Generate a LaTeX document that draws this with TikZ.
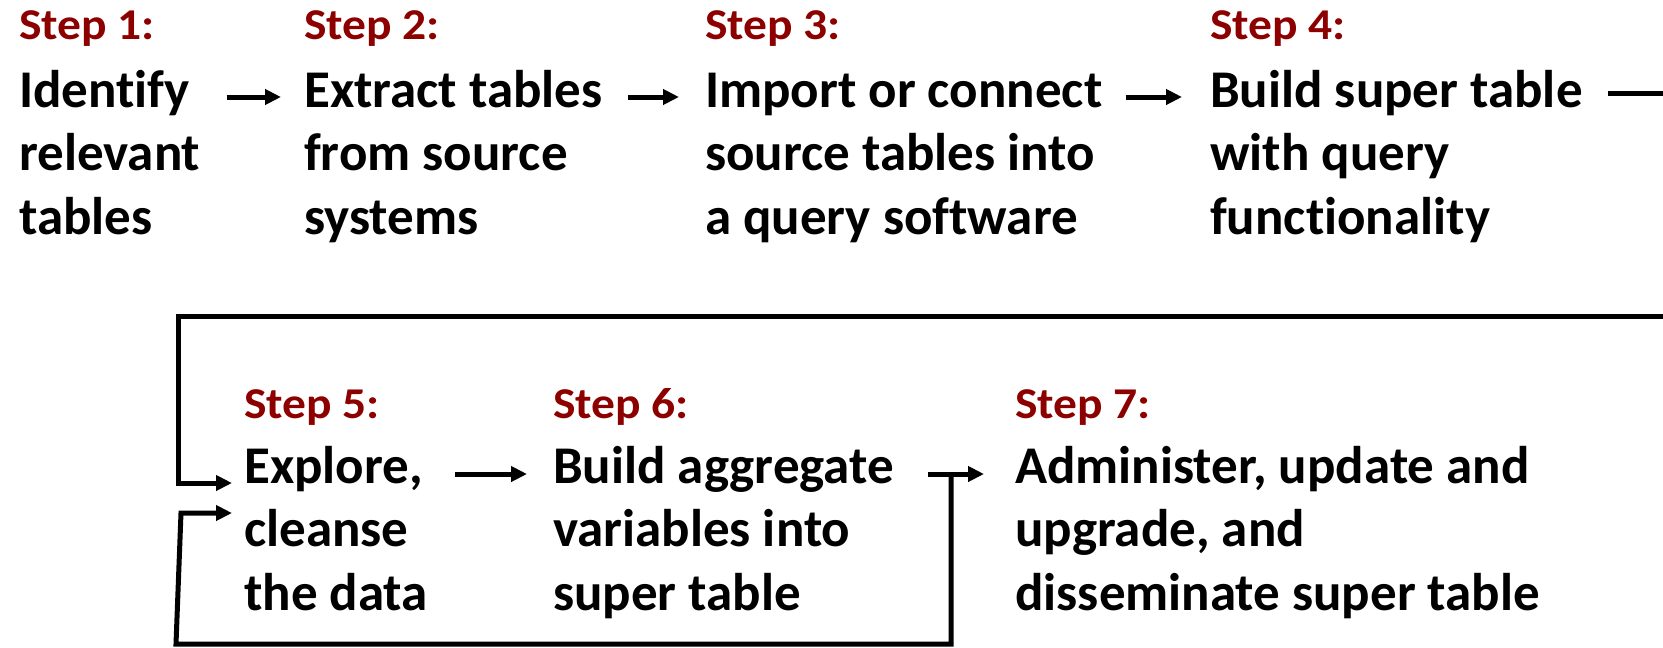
\documentclass[tikz,border=0pt]{standalone}
\usepackage{fontspec}
\setmainfont{Carlito}[Ligatures={NoCommon}]
\usetikzlibrary{arrows.meta}
\definecolor{stepred}{RGB}{140,0,0}
\tikzset{
  steplabel/.style={anchor=base west, inner sep=0pt, text=stepred,
    font=\fontsize{44}{52}\selectfont\bfseries},
  stepbody/.style={anchor=base west, inner sep=0pt,
    font=\fontsize{53}{63.5}\selectfont\bfseries},
  flow/.style={line width=5pt, -{Triangle[length=16pt,width=15pt]}},
}
\newcommand{\lines}[1]{\begin{tabular}[t]{@{}l@{}}#1\end{tabular}}
\newcommand{\stepname}[1]{\scalebox{1.08}[1]{#1}}
\begin{document}
\begin{tikzpicture}[x=1pt,y=-1pt]
\useasboundingbox (0,0) rectangle (1663,648);

% first row
\node[steplabel] (l1) at (19,39)   {\stepname{Step 1:}};
\node[stepbody]  (b1) at (19,107)  {\lines{Identify\\relevant\\tables}};
\node[steplabel] (l2) at (304,39)  {\stepname{Step 2:}};
\node[stepbody]  (b2) at (304,107) {\lines{Extract tables\\from source\\systems}};
\node[steplabel] (l3) at (705,39)  {\stepname{Step 3:}};
\node[stepbody]  (b3) at (705,107) {\lines{Import or connect\\source tables into\\a query software}};
\node[steplabel] (l4) at (1210,39) {\stepname{Step 4:}};
\node[stepbody]  (b4) at (1210,107){\lines{Build super table\\with query\\functionality}};

% second row
\node[steplabel] (l5) at (244,418)  {\stepname{Step 5:}};
\node[stepbody]  (b5) at (244,483)  {\lines{Explore,\\cleanse\\the data}};
\node[steplabel] (l6) at (553,418)  {\stepname{Step 6:}};
\node[stepbody]  (b6) at (553,483)  {\lines{Build aggregate\\variables into\\super table}};
\node[steplabel] (l7) at (1015,418) {\stepname{Step 7:}};
\node[stepbody]  (b7) at (1015,483) {\lines{Administer, update and\\upgrade, and\\disseminate super table}};

% routing points of the two return loops
\coordinate (loopR) at (1700,316);
\coordinate (loopL) at (178,316);
\coordinate (j67)   at (951,474);
\coordinate (fbBL)  at (176,644);
\coordinate (fbTL)  at (181,513);

% forward arrows
\draw[flow] ([shift={(26,-10)}]b1.base east) -- ([shift={(-23,-10)}]b2.base west);
\draw[flow] ([shift={(25,-10)}]b2.base east) -- ([shift={(-26,-10)}]b3.base west);
\draw[flow] ([shift={(23,-10)}]b3.base east) -- ([shift={(-28,-10)}]b4.base west);
\draw[flow] ([shift={(25,-14)}]b4.base east) -| (loopR) -- (loopL)
            |- ([shift={(-12,0)}]b5.base west);
\draw[flow] ([shift={(27,-9)}]b5.base east) -- ([shift={(-26,-9)}]b6.base west);
\draw[flow] ([shift={(34,-9)}]b6.base east) -- ([shift={(-31,-9)}]b7.base west);

% feedback from steps 6/7 back into step 5
\draw[flow] (j67) |- (fbBL) -- (fbTL) -- ([shift={(-12,0)}]b5.base west |- fbTL);
\end{tikzpicture}
\end{document}
